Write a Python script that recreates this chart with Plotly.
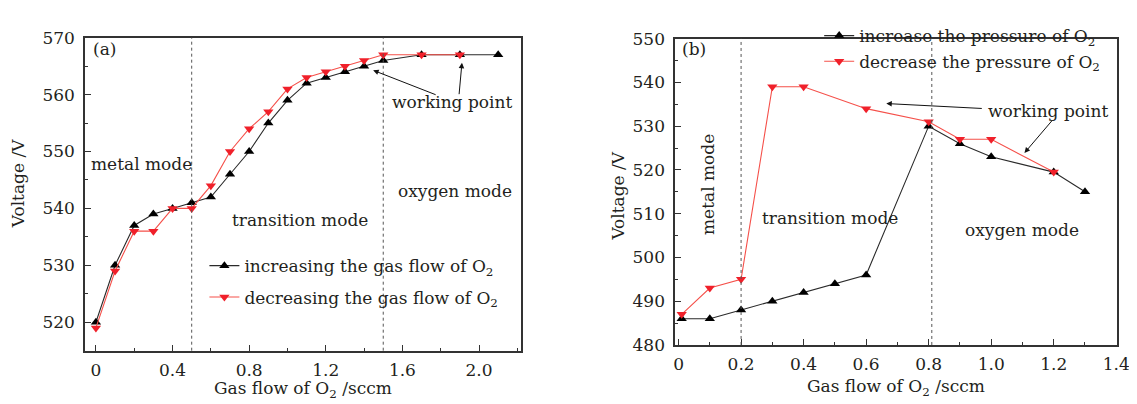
import plotly.graph_objects as go

W, H = 1137, 404
FONT = "DejaVu Serif"
INK = "#231f20"
RED = "#f0202a"

# ---------------- data ----------------
# panel (a): voltage vs O2 gas flow
a_flow_inc = [0, 0.1, 0.2, 0.3, 0.4, 0.5, 0.6, 0.7, 0.8, 0.9, 1.0, 1.1, 1.2, 1.3, 1.4, 1.5, 1.7, 1.9, 2.1]
a_volt_inc = [520, 530, 537, 539, 540, 541, 542, 546, 550, 555, 559, 562, 563, 564, 565, 566, 567, 567, 567]
a_flow_dec = [0, 0.1, 0.2, 0.3, 0.4, 0.5, 0.6, 0.7, 0.8, 0.9, 1.0, 1.1, 1.2, 1.3, 1.4, 1.5, 1.7, 1.9]
a_volt_dec = [519, 529, 536, 536, 540, 540, 544, 550, 554, 557, 561, 563, 564, 565, 566, 567, 567, 567]
a_mode_bounds = [0.5, 1.5]

# panel (b): voltage vs O2 pressure
b_flow_inc = [0.01, 0.1, 0.2, 0.3, 0.4, 0.5, 0.6, 0.8, 0.9, 1.0, 1.2, 1.3]
b_volt_inc = [486, 486, 488, 490, 492, 494, 496, 530, 526, 523, 519.5, 515]
b_flow_dec = [0.01, 0.1, 0.2, 0.3, 0.4, 0.6, 0.8, 0.9, 1.0, 1.2]
b_volt_dec = [487, 493, 495, 539, 539, 534, 531, 527, 527, 519.5]
b_mode_bounds = [0.2, 0.81]

a_names = ["increasing the gas flow of O<sub>2</sub>", "decreasing the gas flow of O<sub>2</sub>"]
b_names = ["increase the pressure of O<sub>2</sub>", "decrease the pressure of O<sub>2</sub>"]


def px(x, y):
    """pixel position -> paper coords"""
    return x / W, 1 - y / H


fig = go.Figure()


def add(xs, ys, name, sym, color, lcolor, xa, ya, leg):
    fig.add_trace(go.Scatter(
        x=xs, y=ys, name=name, mode="lines+markers",
        line=dict(color=lcolor, width=1.1),
        marker=dict(symbol=sym, size=9, color=color),
        xaxis=xa, yaxis=ya, legend=leg,
    ))


add(a_flow_inc, a_volt_inc, a_names[0], "triangle-up", "#000000", "#2a2a2a", "x", "y", "legend")
add(a_flow_dec, a_volt_dec, a_names[1], "triangle-down", RED, "#f5504a", "x", "y", "legend2")
add(b_flow_inc, b_volt_inc, b_names[0], "triangle-up", "#000000", "#2a2a2a", "x2", "y2", "legend3")
add(b_flow_dec, b_volt_dec, b_names[1], "triangle-down", RED, "#f5504a", "x2", "y2", "legend4")

axis_common = dict(
    showline=True, linecolor="#333", linewidth=1.5, mirror=True,
    showgrid=False, zeroline=False, ticks="inside", ticklen=6, tickwidth=1.2,
    tickcolor="#333", tickfont=dict(family=FONT, size=17, color=INK),
)


def leg(x, y):
    lx, ly = px(x, y)
    return dict(x=lx, y=ly, xref="paper", yref="paper", xanchor="left", yanchor="middle",
                bgcolor="rgba(0,0,0,0)", borderwidth=0,
                font=dict(family=FONT, size=17, color=INK))


fig.update_layout(
    width=W, height=H,
    margin=dict(l=0, r=0, t=0, b=0),
    paper_bgcolor="white", plot_bgcolor="white",
    font=dict(family=FONT, size=17, color=INK),
    xaxis=dict(domain=[76 / W, 518 / W], range=[-0.057, 2.22], anchor="y",
               tickvals=[0, 0.4, 0.8, 1.2, 1.6, 2.0], ticktext=["0", "0.4", "0.8", "1.2", "1.6", "2.0"],
               minor=dict(dtick=0.2, tick0=0, ticks="inside", ticklen=3, tickcolor="#333"),
               ticklabelstandoff=3,
               **axis_common),
    yaxis=dict(domain=[(H - 350) / H, (H - 20.7) / H], range=[515, 570], anchor="x",
               dtick=10, tick0=520,
               minor=dict(dtick=5, ticks="inside", ticklen=3, tickcolor="#333"),
               ticklabelstandoff=5,
               **axis_common),
    xaxis2=dict(domain=[674 / W, 1122 / W], range=[-0.011, 1.403], anchor="y2",
                tickvals=[0, 0.2, 0.4, 0.6, 0.8, 1.0, 1.2, 1.4],
                ticktext=["0", "0.2", "0.4", "0.6", "0.8", "1.0", "1.2", "1.4"],
                minor=dict(dtick=0.1, tick0=0, ticks="inside", ticklen=3, tickcolor="#333"),
                ticklabelstandoff=3,
                **axis_common),
    yaxis2=dict(domain=[(H - 344) / H, (H - 21.7) / H], range=[480, 550], anchor="x2",
                dtick=10,
                minor=dict(dtick=5, ticks="inside", ticklen=3, tickcolor="#333"),
                ticklabelstandoff=5,
                **axis_common),
    legend=leg(197, 261),
    legend2=leg(197, 294),
    legend3=leg(820, 19),
    legend4=leg(820, 46),
    showlegend=True,
)

# mode boundaries (dotted verticals)
for xv in a_mode_bounds:
    fig.add_shape(type="line", xref="x", yref="y domain", x0=xv, x1=xv, y0=0, y1=1,
                  line=dict(color="#555", width=1, dash="dot"))
for xv in b_mode_bounds:
    fig.add_shape(type="line", xref="x2", yref="y2 domain", x0=xv, x1=xv, y0=0, y1=1,
                  line=dict(color="#555", width=1, dash="dot"))


def text(x, y, s, angle=0, size=17):
    lx, ly = px(x, y)
    fig.add_annotation(x=lx, y=ly, xref="paper", yref="paper", text=s, showarrow=False,
                       textangle=angle, font=dict(family=FONT, size=size, color=INK),
                       xanchor="center", yanchor="middle")


def arrow(hx, hy, tx, ty):
    lx, ly = px(hx, hy)
    fig.add_annotation(x=lx, y=ly, xref="paper", yref="paper", text="", showarrow=True,
                       ax=tx - hx, ay=ty - hy, axref="pixel", ayref="pixel",
                       arrowhead=2, arrowsize=1.1, arrowwidth=1, arrowcolor="#111")


# panel (a) labels
text(96, 33, "(a)")
text(133, 154, "metal mode")
text(294, 212, "transition mode")
text(451, 182, "oxygen mode")
text(448, 88, "working point")
arrow(368, 55, 432, 80)
arrow(458, 47, 455, 80)
text(8, 174, "Voltage /V", angle=-90)
text(297, 391, "Gas flow of O<sub>2</sub> /sccm")

# panel (b) labels
text(693, 33, "(b)")
text(708, 175, "metal mode", angle=-90)
text(831, 210, "transition mode")
text(1026, 223, "oxygen mode")
text(1052, 98, "working point")
arrow(888, 90, 985, 95)
arrow(1028, 142, 1057, 108)
text(616, 187, "Voltage /V", angle=-90)
text(898, 389, "Gas flow of O<sub>2</sub> /sccm")

fig.write_html("out.html")
